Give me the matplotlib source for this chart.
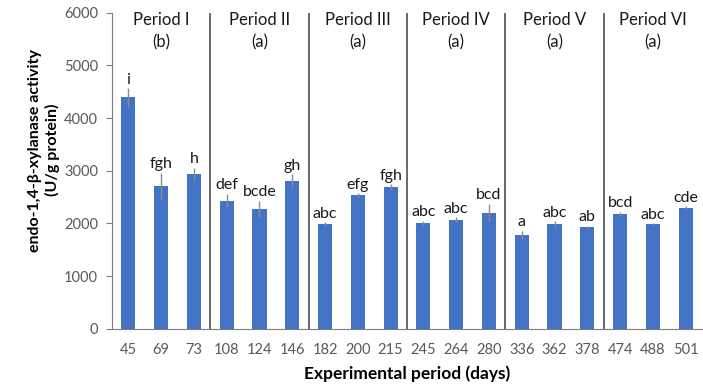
import matplotlib
matplotlib.use("Agg")
import matplotlib.pyplot as plt
import numpy as np

# values
days = ['45', '69', '73', '108', '124', '146', '182', '200', '215',
        '245', '264', '280', '336', '362', '378', '474', '488', '501']
activity = [4390, 2710, 2940, 2435, 2275, 2815, 1990, 2540, 2695,
            2010, 2075, 2200, 1785, 1990, 1930, 2180, 1985, 2300]
errors = [175, 250, 120, 130, 155, 120, 40, 40, 55,
          45, 50, 175, 80, 55, 25, 40, 20, 30]
letters = ['i', 'fgh', 'h', 'def', 'bcde', 'gh', 'abc', 'efg', 'fgh',
           'abc', 'abc', 'bcd', 'a', 'abc', 'ab', 'bcd', 'abc', 'cde']
periods = ['Period I', 'Period II', 'Period III', 'Period IV', 'Period V', 'Period VI']
period_letters = ['(b)', '(a)', '(a)', '(a)', '(a)', '(a)']
per_period = 3

plt.rcParams['font.family'] = ['Lato', 'DejaVu Sans']

fig = plt.figure(figsize=(7.03, 3.85), dpi=100)
ax = fig.add_axes([0.1593, 0.1455, 0.8393, 0.822])

x = np.arange(len(days))
ax.bar(x, activity, width=0.43, color='#4472C4', zorder=2)
ax.errorbar(x, activity, yerr=errors, fmt='none', ecolor='#8c8c8c',
            elinewidth=1, capsize=0, zorder=3)

for xi, v, e, lab in zip(x, activity, errors, letters):
    ax.annotate(lab, (xi, v + e), xytext=(0, 1), textcoords='offset points',
                ha='center', va='bottom', fontsize=11.5, color='#1a1a1a')

# period separators and titles
trans = ax.get_xaxis_transform()
for i, (p, pl) in enumerate(zip(periods, period_letters)):
    if i > 0:
        ax.axvline(i * per_period - 0.5, color='#404040', lw=1.1, zorder=1)
    cx = i * per_period + 1
    ax.text(cx, 0.975, p, transform=trans, ha='center', va='center',
            fontsize=12, color='#1a1a1a')
    ax.text(cx, 0.905, pl, transform=trans, ha='center', va='center',
            fontsize=12, color='#1a1a1a')

ax.set_xlim(-0.5, len(days) - 0.5)
ax.set_ylim(0, 6000)
ax.set_yticks(range(0, 6001, 1000))
ax.set_xticks(x)
ax.set_xticklabels(days)

for s in ['top', 'right']:
    ax.spines[s].set_visible(False)
ax.spines['left'].set_color('#7f7f7f')
ax.spines['bottom'].set_color('#7f7f7f')
ax.tick_params(axis='y', colors='#595959', labelsize=10.5, length=4,
               color='#7f7f7f', pad=6)
ax.tick_params(axis='x', colors='#595959', labelsize=10.5, length=0, pad=10)

ax.set_xlabel('Experimental period (days)', fontsize=12.5, fontweight='bold',
              labelpad=6)
fig.text(0.063, 1 - 150 / 385, 'endo-1,4-β-xylanase activity\n(U/g protein)',
         rotation=90, ha='center', va='center', multialignment='center',
         fontsize=11.5, fontweight='bold', linespacing=1.25)

fig.savefig('out.png', dpi=100)
